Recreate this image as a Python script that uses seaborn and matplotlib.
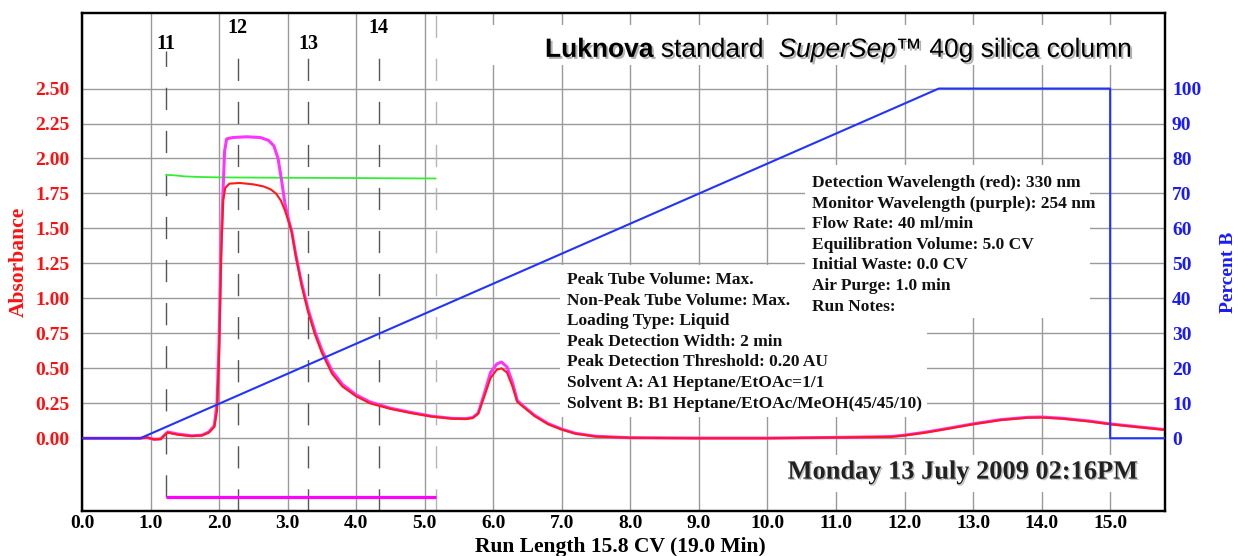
import numpy as np
import pandas as pd
import seaborn as sns
import matplotlib
matplotlib.use('Agg')
import matplotlib.pyplot as plt
from matplotlib.patches import Rectangle
import matplotlib.patheffects as pe

# 330 nm trace (red)
red_x = [0, 0.85, 0.95, 1.05, 1.15, 1.2, 1.25, 1.3, 1.4, 1.6, 1.75, 1.85, 1.93, 1.97, 2.0, 2.03, 2.06, 2.09,
         2.15, 2.3, 2.5, 2.65, 2.75, 2.83, 2.9, 2.96, 3.02, 3.06, 3.12, 3.2, 3.3, 3.4, 3.5, 3.65, 3.8, 4.0,
         4.2, 4.5, 4.8, 5.1, 5.4, 5.6, 5.7, 5.78, 5.87, 5.96, 6.05, 6.12, 6.2, 6.28, 6.35, 6.45, 6.6, 6.8,
         7.0, 7.2, 7.5, 8.0, 9.0, 10.0, 11.0, 11.8, 12.0, 12.3, 12.6, 13.0, 13.4, 13.8, 14.0, 14.3, 14.7,
         15.0, 15.4, 15.8]
red_y = [0, 0, 0.005, -0.008, -0.005, 0.02, 0.04, 0.035, 0.025, 0.015, 0.02, 0.04, 0.08, 0.2, 0.6, 1.3, 1.7, 1.79,
         1.82, 1.825, 1.815, 1.80, 1.78, 1.75, 1.70, 1.63, 1.54, 1.47, 1.30, 1.10, 0.90, 0.74, 0.61, 0.46, 0.37, 0.30,
         0.25, 0.21, 0.18, 0.155, 0.14, 0.138, 0.145, 0.175, 0.30, 0.43, 0.49, 0.50, 0.47, 0.37, 0.26, 0.22, 0.16, 0.10,
         0.062, 0.033, 0.012, 0.003, 0, 0, 0.005, 0.01, 0.02, 0.04, 0.065, 0.10, 0.13, 0.147, 0.148, 0.14, 0.12,
         0.10, 0.08, 0.06]

# 254 nm trace (purple)
mag_x = [0, 0.85, 0.95, 1.05, 1.15, 1.2, 1.25, 1.3, 1.4, 1.6, 1.75, 1.85, 1.93, 1.97, 2.0, 2.03, 2.06, 2.08,
         2.11, 2.2, 2.4, 2.6, 2.72, 2.8, 2.86, 2.91, 2.96, 3.02, 3.06, 3.12, 3.2, 3.3, 3.4, 3.5, 3.65, 3.8, 4.0,
         4.2, 4.5, 4.8, 5.1, 5.4, 5.6, 5.7, 5.78, 5.87, 5.96, 6.05, 6.12, 6.2, 6.28, 6.35, 6.45, 6.6, 6.8,
         7.0, 7.2, 7.5, 8.0, 9.0, 10.0, 11.0, 11.8, 12.0, 12.3, 12.6, 13.0, 13.4, 13.8, 14.0, 14.3, 14.7,
         15.0, 15.4, 15.8]
mag_y = [0, 0, 0.005, -0.008, -0.005, 0.02, 0.045, 0.04, 0.03, 0.018, 0.022, 0.045, 0.09, 0.25, 0.7, 1.4, 1.8, 2.05,
         2.14, 2.15, 2.155, 2.15, 2.13, 2.09, 2.0, 1.85, 1.68, 1.55, 1.48, 1.31, 1.12, 0.92, 0.76, 0.63, 0.48, 0.385, 0.31,
         0.26, 0.215, 0.185, 0.158, 0.142, 0.14, 0.148, 0.18, 0.32, 0.47, 0.53, 0.545, 0.51, 0.40, 0.27, 0.225, 0.165, 0.105,
         0.065, 0.035, 0.014, 0.004, 0.001, 0.001, 0.006, 0.012, 0.022, 0.043, 0.068, 0.103, 0.133, 0.15, 0.152, 0.143, 0.123,
         0.103, 0.082, 0.062]

# threshold trace (green)
green_x = [1.23, 1.3, 1.5, 1.7, 2.0, 3.0, 4.0, 5.16]
green_y = [1.88, 1.882, 1.872, 1.868, 1.865, 1.862, 1.86, 1.857]

# gradient, percent B (blue)
grad_x = [0, 0.85, 12.5, 15.0, 15.0, 15.8]
grad_y = [0, 0, 100, 100, 0, 0]

# fraction tubes
tube_labels = ['11', '12', '13', '14']
tube_pos = [1.23, 2.27, 3.30, 4.33]
tube_end = 5.16
collect_y = -0.42

x_ticks = [0, 1, 2, 3, 4, 5, 6, 7, 8, 9, 10, 11, 12, 13, 14, 15]
abs_ticks = [0, 0.25, 0.5, 0.75, 1.0, 1.25, 1.5, 1.75, 2.0, 2.25, 2.5]
pct_ticks = [0, 10, 20, 30, 40, 50, 60, 70, 80, 90, 100]

info_right = ["Detection Wavelength (red): 330 nm", "Monitor Wavelength (purple): 254 nm",
              "Flow Rate: 40 ml/min", "Equilibration Volume: 5.0 CV", "Initial Waste: 0.0 CV",
              "Air Purge: 1.0 min", "Run Notes:"]
info_left = ["Peak Tube Volume: Max.", "Non-Peak Tube Volume: Max.", "Loading Type: Liquid",
             "Peak Detection Width: 2 min", "Peak Detection Threshold: 0.20 AU",
             "Solvent A: A1 Heptane/EtOAc=1/1", "Solvent B: B1 Heptane/EtOAc/MeOH(45/45/10)"]

sns.set_theme(style='white')
plt.rcParams['font.family'] = ['Liberation Serif', 'DejaVu Serif']
plt.rcParams['font.weight'] = 'bold'

serif = ['Liberation Serif', 'DejaVu Serif']
sans = ['Liberation Sans', 'DejaVu Sans']

fig = plt.figure(figsize=(12.38, 5.56), dpi=100)
ax = fig.add_axes([82 / 1238, 45 / 556, 1083 / 1238, 498 / 556])
ax2 = ax.twinx()

ylo, yhi = -0.52, 3.04
ax.set_xlim(0, 15.8)
ax.set_ylim(ylo, yhi)
ax2.set_ylim(ylo * 40, yhi * 40)

ax.set_xticks(x_ticks)
ax.set_xticklabels(['%.1f' % v for v in x_ticks])
ax.set_yticks(abs_ticks)
ax.set_yticklabels(['%.2f' % v for v in abs_ticks])
ax2.set_yticks(pct_ticks)

ax.set_axisbelow(True)
ax.grid(True, color='#9a9a9a', lw=1.0)
ax2.grid(False)

# white panels behind the annotations
panels = [(0.358, 0.896, 0.637, 0.080), (0.668, 0.388, 0.263, 0.307),
          (0.441, 0.189, 0.339, 0.305), (0.645, 0.038, 0.341, 0.074)]
for (px, py, pw, ph) in panels:
    ax.add_patch(Rectangle((px, py), pw, ph, transform=ax.transAxes,
                           facecolor='white', edgecolor='none', zorder=1))

# fraction markers
dash = (0, (16, 15))
for i, (lab, xp) in enumerate(zip(tube_labels, tube_pos)):
    top = 2.77 if i % 2 == 0 else 2.84
    bot = collect_y if i == 0 else ylo
    ax.plot([xp, xp], [bot, top], color='#555555', lw=1.0, linestyle=dash, zorder=2)
    ax.text(xp, 2.82 if i % 2 == 0 else 2.93, lab, ha='center', va='center',
            fontsize=14.5, fontweight='bold', color='black', family=serif, zorder=4)
ax.plot([tube_end, tube_end], [ylo, yhi], color='#b5b5b5', lw=1.0, linestyle=dash, zorder=2)
ax.plot([tube_pos[0], tube_end], [collect_y, collect_y], color='#ff00ff', lw=2.3,
        solid_capstyle='butt', zorder=3)

df_mag = pd.DataFrame({'x': mag_x, 'y': mag_y})
df_red = pd.DataFrame({'x': red_x, 'y': red_y})
df_green = pd.DataFrame({'x': green_x, 'y': green_y})
df_grad = pd.DataFrame({'x': grad_x, 'y': grad_y})

sns.lineplot(data=df_green, x='x', y='y', ax=ax, color='#33ee33', lw=1.3, sort=False, estimator=None, zorder=3)
sns.lineplot(data=df_mag, x='x', y='y', ax=ax, color='#ff33ff', lw=2.2, sort=False, estimator=None, zorder=3)
sns.lineplot(data=df_red, x='x', y='y', ax=ax, color='#ff1a1a', lw=1.5, sort=False, estimator=None, zorder=4)
sns.lineplot(data=df_grad, x='x', y='y', ax=ax2, color='#2233ff', lw=1.5, sort=False, estimator=None, zorder=3)

ax.set_xlabel('')
ax.set_ylabel('')
ax2.set_xlabel('')
ax2.set_ylabel('')

for sp in ax.spines.values():
    sp.set_color('black')
    sp.set_linewidth(1.6)
for sp in ax2.spines.values():
    sp.set_color('black')
    sp.set_linewidth(1.6)

ax.tick_params(axis='both', length=0)
ax.tick_params(axis='y', pad=9, labelcolor='#ff1010', labelsize=14)
ax.tick_params(axis='x', pad=3, labelcolor='black', labelsize=14)
ax2.tick_params(axis='y', length=0, pad=5, labelcolor='#1a1aff', labelsize=14)
for lab in ax.get_xticklabels() + ax.get_yticklabels() + ax2.get_yticklabels():
    lab.set_fontweight('bold')
    lab.set_family(serif)

ax.set_ylabel('Absorbance', color='#ff1010', fontsize=15.5, fontweight='bold', family=serif)
ax.yaxis.set_label_coords(-0.049, 0.5)
ax2.set_ylabel('Percent B', color='#1a1aff', fontsize=14, fontweight='bold', family=serif)
ax2.yaxis.set_label_coords(1.051, 0.48)
ax.set_xlabel('Run Length 15.8 CV (19.0 Min)', color='black', fontsize=15.5, fontweight='bold', family=serif)
ax.xaxis.set_label_coords(0.497, -0.052)

# info blocks, one text per line
step = 20.6 / 498
for k, line in enumerate(info_right):
    ax.text(0.674, 0.6586 - k * step, line, transform=ax.transAxes, ha='left', va='center',
            fontsize=12.5, fontweight='bold', family=serif, zorder=5, color='#111111')
for k, line in enumerate(info_left):
    ax.text(0.448, 0.4639 - k * step, line, transform=ax.transAxes, ha='left', va='center',
            fontsize=12.5, fontweight='bold', family=serif, zorder=5, color='#111111')

ax.text(0.8135, 0.078, 'Monday 13 July 2009 02:16PM', transform=ax.transAxes, ha='center', va='center',
        fontsize=19, fontweight='bold', family=serif, color='#222222', zorder=5,
        path_effects=[pe.withSimplePatchShadow(offset=(1, -1), alpha=0.25)])

# title, mixed styles
shadow = [pe.withSimplePatchShadow(offset=(1.5, -1.5), alpha=0.3)]
t = ax.text(0.4275, 0.912, 'Luknova', transform=ax.transAxes, ha='left', va='baseline',
            fontsize=19, fontweight='bold', family=sans, color='black', zorder=5, path_effects=shadow)
pieces = [(' standard  ', 'normal', 'normal'), ('SuperSep', 'normal', 'italic'),
          ('\u2122 40g silica column', 'normal', 'normal')]
for s, w, st in pieces:
    t = ax.annotate(s, xy=(1, 0), xycoords=t, ha='left', va='bottom', fontsize=19, fontweight=w,
                    fontstyle=st, family=sans, color='black', zorder=5, path_effects=shadow)

fig.savefig('out.png', dpi=100)
